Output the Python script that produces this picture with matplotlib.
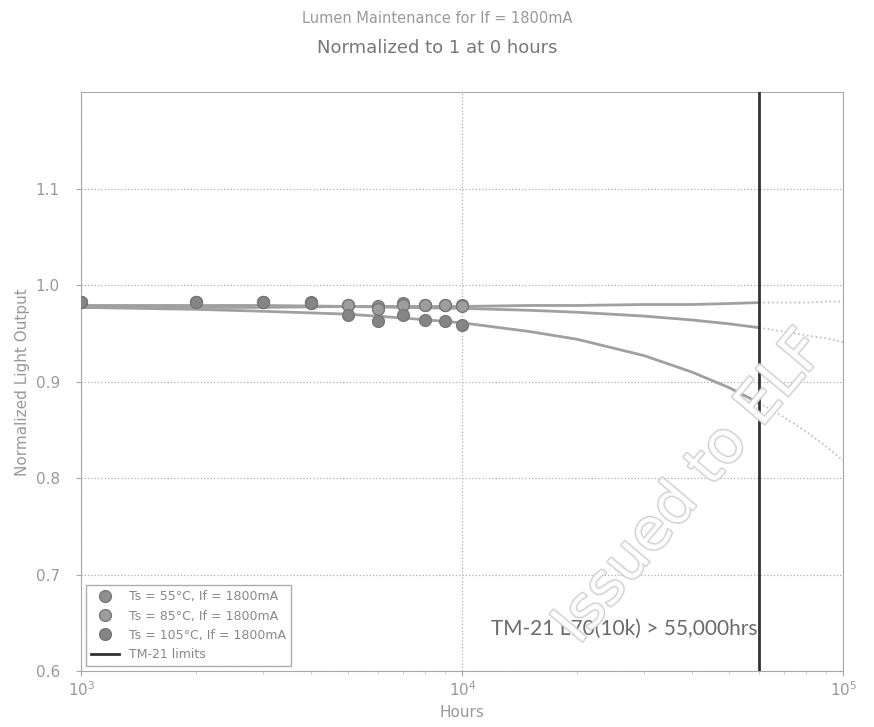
import matplotlib
matplotlib.use("Agg")
import matplotlib.pyplot as plt
import matplotlib.patheffects as pe

plt.rcParams['font.family'] = ['DejaVu Sans']

# measured points (hours, normalized output)
hours = [1000, 2000, 3000, 4000, 5000, 6000, 7000, 8000, 9000, 10000]
ts55 = [0.983, 0.983, 0.983, 0.983, 0.980, 0.978, 0.982, 0.980, 0.980, 0.980]
ts85 = [0.983, 0.983, 0.983, 0.982, 0.979, 0.975, 0.979, 0.979, 0.979, 0.978]
ts105 = [0.983, 0.983, 0.983, 0.982, 0.969, 0.963, 0.969, 0.964, 0.963, 0.959]
labels = ["Ts = 55°C, If = 1800mA", "Ts = 85°C, If = 1800mA", "Ts = 105°C, If = 1800mA"]

# projection curves, up to the TM-21 limit
proj_hours = [1000, 2000, 3000, 5000, 7000, 10000, 15000, 20000, 30000, 40000, 50000, 60000]
proj55 = [0.977, 0.977, 0.977, 0.978, 0.978, 0.978, 0.979, 0.979, 0.980, 0.980, 0.981, 0.982]
proj85 = [0.979, 0.979, 0.979, 0.978, 0.977, 0.976, 0.974, 0.972, 0.968, 0.964, 0.960, 0.956]
proj105 = [0.977, 0.975, 0.973, 0.970, 0.966, 0.961, 0.952, 0.944, 0.927, 0.910, 0.894, 0.878]

# dotted part past the limit
ext_hours = [60000, 70000, 80000, 90000, 100000]
ext55 = [0.982, 0.982, 0.982, 0.983, 0.983]
ext85 = [0.956, 0.952, 0.948, 0.945, 0.941]
ext105 = [0.878, 0.863, 0.848, 0.833, 0.818]

tm21_limit = 60000

fig = plt.figure(figsize=(8.74, 7.27), dpi=100)
ax = fig.add_axes([0.093, 0.077, 0.872, 0.796])

marker_cols = ["#8f8f8f", "#9d9d9d", "#858585"]

for ys, lab, c in zip([ts55, ts85, ts105], labels, marker_cols):
    ax.plot(hours, ys, "o", color=c, mec="#777777", ms=8.5, label=lab, zorder=3)

for ys in [proj55, proj85, proj105]:
    ax.plot(proj_hours, ys, "-", color="#a0a0a0", lw=2, zorder=2)
for ys in [ext55, ext85, ext105]:
    ax.plot(ext_hours, ys, ":", color="#bdbdbd", lw=1.2, zorder=2)

ax.axvline(tm21_limit, color="#333333", lw=2, label="TM-21 limits", zorder=4)

ax.set_xscale("log")
ax.set_xlim(1000, 100000)
ax.set_ylim(0.6, 1.2)
ax.set_yticks([0.6, 0.7, 0.8, 0.9, 1.0, 1.1])
ax.set_yticklabels(["0.6", "0.7", "0.8", "0.9", "1.0", "1.1"])
ax.grid(True, which="major", linestyle=":", color="#b0b0b0", lw=0.9)

for s in ax.spines.values():
    s.set_color("#a8a8a8")
ax.tick_params(colors="#a8a8a8", labelcolor="#9a9a9a", labelsize=11)
ax.tick_params(axis="y", pad=12)
ax.tick_params(which="minor", colors="#c8c8c8")

ax.set_xlabel("Hours", color="#999999", fontsize=11, labelpad=4)
ax.set_ylabel("Normalized Light Output", color="#999999", fontsize=11, labelpad=4)

fig.text(0.5, 0.975, "Lumen Maintenance for If = 1800mA", ha="center", va="center",
         color="#999999", fontsize=10.5)
fig.text(0.5, 0.934, "Normalized to 1 at 0 hours", ha="center", va="center",
         color="#777777", fontsize=13)

leg = ax.legend(loc="lower left", numpoints=1, fontsize=9, fancybox=False,
                borderaxespad=0.4, handlelength=2.2)
leg.get_frame().set_edgecolor("#999999")
for t in leg.get_texts():
    t.set_color("#888888")

ax.text(0.537, 0.063, "TM-21 L70(10k) > 55,000hrs", transform=ax.transAxes,
        fontsize=15, color="#6a6a6a", family="Lato", zorder=5)

# scan watermark
fig.text(0.79, 0.33, "Issued to ELF", rotation=50, ha="center", va="center",
         fontsize=42, color="white", alpha=0.85, zorder=10,
         path_effects=[pe.withStroke(linewidth=2, foreground="#cacaca")])

fig.savefig("out.png", dpi=100)
